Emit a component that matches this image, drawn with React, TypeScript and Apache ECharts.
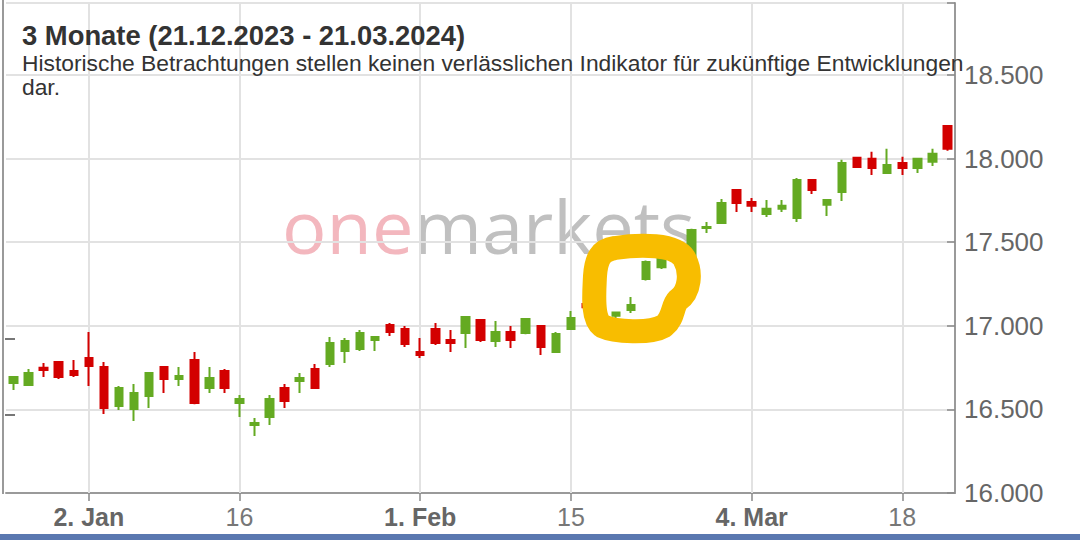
import React, { useEffect, useRef } from "react";
import * as echarts from "echarts";

// Trading days, 21.12.2023 - 21.03.2024
const dates = [
  "2023-12-21", "2023-12-22", "2023-12-27", "2023-12-28", "2023-12-29",
  "2024-01-02", "2024-01-03", "2024-01-04", "2024-01-05", "2024-01-08",
  "2024-01-09", "2024-01-10", "2024-01-11", "2024-01-12", "2024-01-15",
  "2024-01-16", "2024-01-17", "2024-01-18", "2024-01-19", "2024-01-22",
  "2024-01-23", "2024-01-24", "2024-01-25", "2024-01-26", "2024-01-29",
  "2024-01-30", "2024-01-31", "2024-02-01", "2024-02-02", "2024-02-05",
  "2024-02-06", "2024-02-07", "2024-02-08", "2024-02-09", "2024-02-12",
  "2024-02-13", "2024-02-14", "2024-02-15", "2024-02-16", "2024-02-19",
  "2024-02-20", "2024-02-21", "2024-02-22", "2024-02-23", "2024-02-26",
  "2024-02-27", "2024-02-28", "2024-02-29", "2024-03-01", "2024-03-04",
  "2024-03-05", "2024-03-06", "2024-03-07", "2024-03-08", "2024-03-11",
  "2024-03-12", "2024-03-13", "2024-03-14", "2024-03-15", "2024-03-18",
  "2024-03-19", "2024-03-20", "2024-03-21",
];

const openValues = [
  16658, 16646, 16749, 16784, 16730, 16807, 16754, 16520, 16502, 16580,
  16754, 16682, 16795, 16628, 16730, 16538, 16407, 16455, 16628, 16670,
  16742, 16772, 16849, 16861, 16915, 17005, 16981, 16843, 16981, 16915,
  16957, 17035, 16909, 16963, 16957, 16999, 16843, 16981, 17130, 17115,
  17060, 17094, 17280, 17350, 17400, 17410, 17585, 17615, 17812, 17740,
  17669, 17699, 17645, 17872, 17723, 17800, 18004, 17998, 17914, 17974,
  17944, 17980, 18195,
];
const closeValues = [
  16694, 16718, 16736, 16694, 16706, 16760, 16508, 16628, 16598, 16718,
  16682, 16700, 16538, 16688, 16628, 16562, 16419, 16562, 16550, 16688,
  16628, 16897, 16909, 16957, 16933, 16963, 16891, 16825, 16897, 16897,
  17053, 16915, 16963, 16915, 17041, 16873, 16951, 17047, 17110, 17095,
  17080, 17124, 17382, 17400, 17425, 17573, 17591, 17734, 17734, 17717,
  17699, 17717, 17872, 17812, 17752, 17974, 17950, 17944, 17962, 17944,
  17998, 18028, 18058,
];
const lowValues = [
  16616, 16640, 16694, 16682, 16694, 16640, 16472, 16496, 16431, 16508,
  16598, 16640, 16530, 16598, 16598, 16455, 16341, 16407, 16508, 16598,
  16625, 16754, 16778, 16849, 16849, 16939, 16873, 16807, 16885, 16843,
  16867, 16903, 16873, 16867, 16950, 16825, 16837, 16978, 17075, 17070,
  17040, 17077, 17270, 17340, 17380, 17400, 17555, 17612, 17680, 17680,
  17651, 17680, 17621, 17788, 17657, 17746, 17944, 17902, 17910, 17902,
  17914, 17956, 18046,
];
const highValues = [
  16700, 16742, 16778, 16790, 16795, 16963, 16784, 16640, 16652, 16722,
  16760, 16754, 16843, 16754, 16742, 16586, 16449, 16586, 16652, 16718,
  16772, 16933, 16927, 16975, 16935, 17017, 16999, 16927, 17017, 16975,
  17059, 17041, 17029, 16999, 17045, 17003, 16963, 17089, 17140, 17130,
  17085, 17172, 17390, 17415, 17445, 17580, 17621, 17758, 17815, 17764,
  17752, 17752, 17884, 17875, 17755, 17992, 18010, 18040, 18058, 18010,
  18000, 18058, 18198,
];

const tickDates = ["2024-01-02", "2024-01-16", "2024-02-01", "2024-02-15", "2024-03-04", "2024-03-18"];
const tickLabels = ["2. Jan", "16", "1. Feb", "15", "4. Mar", "18"];
const tickBold = [true, false, true, false, true, false];

const yMin = 16000;
const yMax = 18930;
const yStep = 500;

const titleText = "3 Monate (21.12.2023 - 21.03.2024)";
const subtitleText =
  "Historische Betrachtungen stellen keinen verlässlichen Indikator für zukünftige Entwicklungen\ndar.";

const highlightPath =
  "M 615 248 C 640 244 675 244 684 258 C 692 272 690 292 678 300 C 672 306 674 318 664 326 C 650 334 615 332 602 326 C 592 318 594 296 595 276 C 596 260 600 250 615 248 Z";

let registered = false;

function fmtDE(v: number): string {
  const s = String(Math.round(v));
  return s.replace(/\B(?=(\d{3})+(?!\d))/g, ".");
}

export default function App() {
  const ref = useRef<HTMLDivElement>(null);
  useEffect(() => {
    if (!ref.current) return;
    if (!registered) {
      echarts.graphic.registerShape("hlmark", echarts.graphic.extendPath(highlightPath, {}));
      registered = true;
    }
    const chart = echarts.init(ref.current, null, { renderer: "svg" });
    const ohlc = dates.map((_, i) => [openValues[i], closeValues[i], lowValues[i], highValues[i]]);
    const tickSet = new Set(tickDates);
    const font = "'Liberation Sans', Arial, sans-serif";
    chart.setOption({
      animation: false,
      backgroundColor: "#ffffff",
      textStyle: { fontFamily: font },
      grid: { left: 6, right: 125, top: 3, bottom: 47, containLabel: false },
      xAxis: {
        type: "category",
        data: dates,
        boundaryGap: true,
        axisLine: { show: true, lineStyle: { color: "#9a9a9a", width: 2 } },
        axisTick: {
          show: true,
          alignWithLabel: true,
          length: 8,
          interval: (idx: number, val: string) => tickSet.has(val),
          lineStyle: { color: "#888", width: 1.5 },
        },
        axisLabel: {
          show: true,
          interval: (idx: number, val: string) => tickSet.has(val),
          margin: 11,
          formatter: (val: string) => {
            const k = tickDates.indexOf(val);
            if (k < 0) return "";
            return tickBold[k] ? `{b|${tickLabels[k]}}` : `{n|${tickLabels[k]}}`;
          },
          rich: {
            b: { fontFamily: font, fontSize: 25, fontWeight: "bold", color: "#666" },
            n: { fontFamily: font, fontSize: 25, color: "#777" },
          },
        },
        splitLine: { show: false },
      },
      yAxis: {
        type: "value",
        position: "right",
        min: yMin,
        max: yMax,
        interval: yStep,
        axisLine: { show: true, lineStyle: { color: "#9a9a9a", width: 2 } },
        axisTick: { show: true, inside: true, length: 8, lineStyle: { color: "#888", width: 1.5 } },
        axisLabel: {
          show: true,
          margin: 9,
          color: "#666",
          fontFamily: font,
          fontSize: 26,
          formatter: (v: number) => (v % yStep === 0 ? fmtDE(v) : ""),
        },
        splitLine: { show: true, lineStyle: { color: "#e2e2e2", width: 2 } },
      },
      series: [
        {
          type: "candlestick",
          data: ohlc,
          barWidth: 8,
          itemStyle: {
            color: "#64aa22",
            color0: "#d30000",
            borderColor: "#64aa22",
            borderColor0: "#d30000",
            borderWidth: 2,
          },
          markLine: {
            silent: true,
            z: 1,
            symbol: ["none", "none"],
            label: { show: false },
            lineStyle: { color: "#e2e2e2", width: 2, type: "solid" },
            emphasis: { disabled: true },
            data: tickDates.map((d) => ({ xAxis: d })),
          },
        },
      ],
      graphic: [
        {
          type: "text",
          left: 282,
          top: 188,
          z: 0,
          silent: true,
          style: {
            text: "{a|one}{b|markets}",
            rich: {
              a: { fontFamily: "'Open Sans', sans-serif", fontSize: 74, fontWeight: "normal", fill: "#f3b7be" },
              b: { fontFamily: "'Open Sans', sans-serif", fontSize: 74, fontWeight: "normal", fill: "#c0c0c0" },
            },
          },
        },
        {
          type: "text",
          left: 22,
          top: 22,
          z: 100,
          style: { text: titleText, fontFamily: font, fontSize: 27.4, lineHeight: 27, fontWeight: "bold", fill: "#333" },
        },
        {
          type: "text",
          left: 22,
          top: 51,
          z: 100,
          style: { text: subtitleText, fontFamily: font, fontSize: 22.8, lineHeight: 24, fill: "#333" },
        },
        {
          type: "line",
          z: 50,
          shape: { x1: 3, y1: 0, x2: 3, y2: 494 },
          style: { stroke: "#9a9a9a", lineWidth: 2 },
        },
        {
          type: "line",
          z: 50,
          shape: { x1: 5, y1: 339, x2: 15, y2: 339 },
          style: { stroke: "#777", lineWidth: 2 },
        },
        {
          type: "line",
          z: 50,
          shape: { x1: 5, y1: 415, x2: 15, y2: 415 },
          style: { stroke: "#777", lineWidth: 2 },
        },
        {
          type: "hlmark",
          x: 0,
          y: 0,
          z: 200,
          silent: true,
          style: { fill: "none", stroke: "#f8bd00", lineWidth: 24, lineJoin: "round", lineCap: "round" },
        },
        {
          type: "rect",
          z: 200,
          shape: { x: 0, y: 534, width: 1080, height: 6 },
          style: { fill: "#5a78b0" },
        },
      ],
    });
    return () => chart.dispose();
  }, []);
  return (
    <div
      ref={ref}
      style={{ position: "fixed", left: 0, top: 0, width: 1080, height: 540, background: "#fff" }}
    />
  );
}
